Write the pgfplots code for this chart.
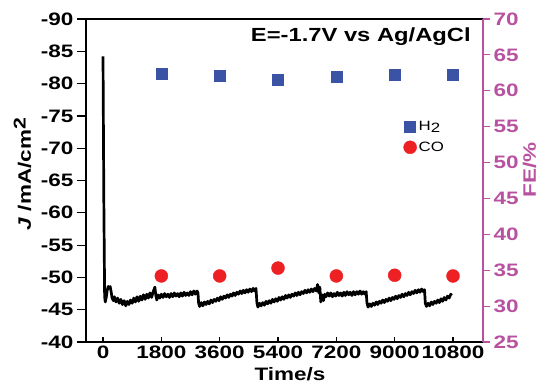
\documentclass[border=0pt]{standalone}
\usepackage{pgfplots}
\usepackage{pgfplotstable}
\pgfplotsset{compat=1.18}
\usepackage{fontspec}
\setmainfont[FakeStretch=1.25]{Liberation Sans}
\definecolor{fem}{RGB}{184,82,160}
\definecolor{hblue}{RGB}{58,83,164}
\definecolor{cored}{RGB}{237,32,36}

\pgfplotstableread{
t J
0 -84.2
25 -62
50 -47.0
70 -46.2
100 -46.9
130 -48.0
160 -48.6
190 -48.3
220 -48.6
250 -47.8
280 -46.8
320 -46.4
350 -47.0
400 -46.2
450 -46.8
500 -46.0
550 -46.6
600 -45.8
650 -46.4
700 -45.6
750 -46.3
800 -45.8
850 -46.5
900 -46.0
950 -46.8
1000 -46.2
1050 -47.0
1100 -46.3
1150 -47.1
1200 -46.5
1250 -47.3
1300 -46.6
1350 -47.4
1400 -46.8
1450 -47.6
1500 -46.9
1550 -47.8
1600 -48.5
1630 -47.2
1660 -46.5
1700 -47.3
1750 -46.8
1800 -47.4
1850 -46.9
1900 -47.5
1950 -47.0
2000 -47.4
2050 -46.9
2100 -47.5
2150 -47.0
2200 -47.6
2250 -47.1
2300 -47.5
2350 -47.0
2400 -47.6
2450 -47.1
2500 -47.7
2550 -47.2
2600 -47.6
2650 -47.2
2700 -47.8
2750 -47.3
2800 -47.9
2850 -47.4
2900 -47.9
2930 -47.6
2950 -46.0
2980 -45.5
3030 -46.1
3080 -45.6
3130 -46.2
3180 -45.8
3230 -46.3
3280 -45.9
3330 -46.5
3380 -46.1
3430 -46.6
3480 -46.3
3530 -46.8
3580 -46.4
3630 -47.0
3680 -46.6
3730 -47.1
3780 -46.8
3830 -47.3
3880 -46.9
3930 -47.4
3980 -47.1
4030 -47.6
4080 -47.2
4130 -47.7
4180 -47.4
4230 -47.9
4280 -47.5
4330 -48.0
4380 -47.6
4430 -48.1
4480 -47.7
4530 -48.2
4580 -47.8
4630 -48.3
4680 -47.9
4720 -48.3
4750 -46.0
4780 -45.4
4830 -46.0
4880 -45.6
4930 -46.1
4980 -45.7
5030 -46.3
5080 -45.9
5130 -46.4
5180 -46.0
5230 -46.6
5280 -46.2
5330 -46.7
5380 -46.3
5430 -46.9
5480 -46.5
5530 -47.0
5580 -46.6
5630 -47.2
5680 -46.8
5730 -47.3
5780 -46.9
5830 -47.4
5880 -47.1
5930 -47.6
5980 -47.2
6030 -47.7
6080 -47.3
6130 -47.8
6180 -47.5
6230 -48.0
6280 -47.6
6330 -48.1
6380 -47.7
6430 -48.2
6480 -47.8
6530 -48.3
6580 -47.9
6620 -48.9
6660 -47.6
6690 -48.5
6720 -46.2
6760 -47.3
6800 -46.4
6840 -47.4
6880 -47.0
6930 -47.6
6980 -47.1
7030 -47.6
7080 -47.0
7130 -47.5
7180 -47.1
7230 -47.7
7280 -47.2
7330 -47.6
7380 -47.1
7430 -47.7
7480 -47.2
7530 -47.8
7580 -47.3
7630 -47.7
7680 -47.2
7730 -47.8
7780 -47.3
7830 -47.8
7880 -47.4
7930 -47.9
7980 -47.4
8030 -47.8
8080 -47.4
8120 -47.8
8145 -46.0
8180 -45.4
8230 -45.9
8280 -45.5
8330 -46.0
8380 -45.7
8430 -46.2
8480 -45.8
8530 -46.3
8580 -46.0
8630 -46.5
8680 -46.1
8730 -46.6
8780 -46.3
8830 -46.8
8880 -46.4
8930 -46.9
8980 -46.6
9030 -47.1
9080 -46.7
9130 -47.2
9180 -46.9
9230 -47.4
9280 -47.0
9330 -47.5
9380 -47.2
9430 -47.7
9480 -47.3
9530 -47.8
9580 -47.5
9630 -48.0
9680 -47.6
9730 -48.1
9780 -47.7
9830 -48.2
9880 -47.8
9920 -48.1
9945 -46.0
9980 -45.5
10030 -46.0
10080 -45.6
10130 -46.2
10180 -45.8
10230 -46.3
10280 -46.0
10330 -46.5
10380 -46.1
10430 -46.7
10480 -46.3
10530 -46.9
10580 -46.5
10630 -47.1
10680 -46.8
10730 -47.4
10760 -47.2
}\jdata

\pgfplotstableread{
t FE
1800 62.4
3600 62.06
5400 61.5
7200 61.9
9000 62.2
10800 62.3
}\hdata

\pgfplotstableread{
t FE
1800 34.2
3600 34.2
5400 35.3
7200 34.2
9000 34.3
10800 34.2
}\codata

\begin{document}
\begin{tikzpicture}
\pgfplotsset{
  common/.style={scale only axis, width=397pt, height=323pt,
    xmin=-525, xmax=11725,
    scaled x ticks=false, scaled y ticks=false,
    /pgf/number format/assume math mode=true,
    tick label style={font=\fontsize{18}{18}\selectfont\bfseries},
    label style={font=\fontsize{18}{20}\selectfont\bfseries}},
}
% frame, x axis, current trace
\begin{axis}[common, name=A,
  ymin=-90, ymax=-40, y dir=reverse,
  axis line style={line width=1.5pt},
  xtick={0,1800,3600,5400,7200,9000,10800},
  xticklabels={0,1800,3600,5400,7200,9000,10800},
  xtick pos=bottom, tick align=inside, major tick length=5pt,
  ytick=\empty,
  xtick style={line width=1.2pt, black},
  xlabel={Time/s},
  xlabel style={at={(axis description cs:0.514,-0.101)}, anchor=center},
]
\addplot[black, line width=2.7pt, line join=round] table[x=t,y=J]{\jdata};
\node[anchor=east, font=\fontsize{19}{20}\selectfont\bfseries] at (rel axis cs:0.978,0.945) {E=-1.7V vs Ag/AgCl};
\end{axis}
% left y axis
\begin{axis}[common,
  ymin=-90, ymax=-40, y dir=reverse,
  axis x line=none, axis y line*=left,
  axis line style={line width=1.5pt},
  ytick={-90,-85,-80,-75,-70,-65,-60,-55,-50,-45,-40},
  tick align=outside, major tick length=9pt,
  ytick style={line width=1.2pt, black},
  ylabel={\textit{J} /mA/cm\raisebox{0.55ex}{\fontsize{17}{17}\selectfont 2}},
  ylabel style={at={(axis description cs:-0.160,0.52)}, anchor=center},
]
\end{axis}
% right y axis, Faradaic efficiencies
\begin{axis}[common,
  ymin=25, ymax=70,
  axis x line=none, axis y line*=right,
  axis line style={fem, line width=1.5pt},
  ytick={25,30,35,40,45,50,55,60,65,70},
  tick align=outside, major tick length=7pt,
  ytick style={fem, line width=1.2pt},
  yticklabel style={fem},
  ylabel={FE/\%},
  ylabel style={fem, at={(axis description cs:1.117,0.533)}, anchor=center},
  legend style={at={(axis description cs:0.792,0.697)}, anchor=north west,
    draw=none, fill=none, font=\fontsize{13.5}{13.5}\selectfont, row sep=6pt},
  legend cell align=left,
]
\addplot[only marks, mark=square*, mark size=5.5pt, hblue, mark options={draw=hblue, fill=hblue}] table[x=t,y=FE]{\hdata};
\addlegendentry{H\raisebox{-0.35ex}{2}}
\addplot[only marks, mark=*, mark size=6.5pt, cored, mark options={draw=cored, fill=cored}] table[x=t,y=FE]{\codata};
\addlegendentry{CO}
\end{axis}
\pgfresetboundingbox
\path[use as bounding box, shift={(A.south west)}] (-86pt,-43pt) rectangle (454pt,342pt);
\end{tikzpicture}
\end{document}
